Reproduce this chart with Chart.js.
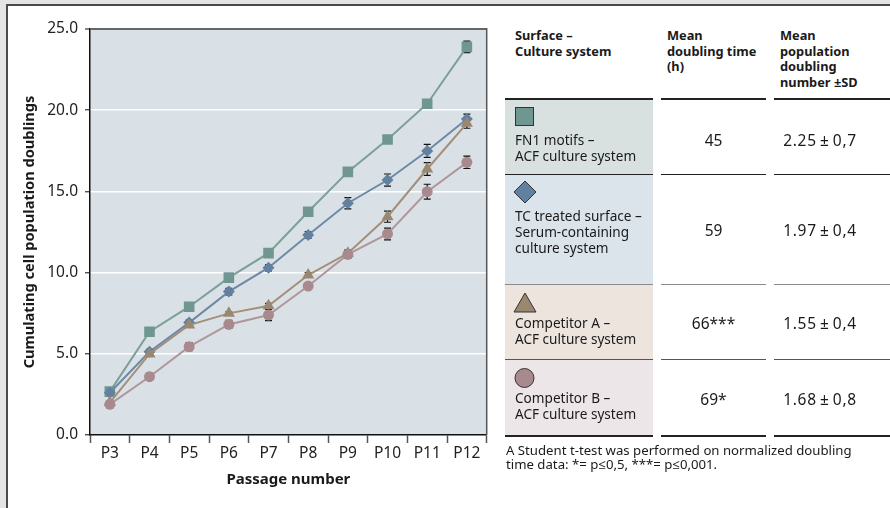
<!DOCTYPE html>
<html>
<head>
<meta charset="utf-8">
<script src="https://cdn.jsdelivr.net/npm/chart.js@4/dist/chart.umd.min.js"></script>
<style>
  html, body { margin:0; padding:0; }
  body { width:890px; height:508px; background:#e4e4e4; position:relative; overflow:hidden; font-family:"Noto Sans", "Open Sans", sans-serif; color:#1a1a1a; }
  #panel { position:absolute; left:6px; top:4px; width:884px; height:504px; background:#fff; border-left:2px solid #4a4a4a; border-top:2px solid #4a4a4a; }
  #chartBox { position:absolute; left:8px; top:6px; width:492px; height:502px; }
  .abs { position:absolute; }
  .hdr { font-weight:bold; font-size:12.8px; line-height:15.5px; }
  .cell { font-size:13.6px; line-height:15.8px; }
  .val { font-size:15.5px; text-align:center; }
  .val2 { letter-spacing:0.7px; }
  .bg { position:absolute; left:505px; width:148px; }
  .ln { position:absolute; height:1px; background:#333; }
  .foot { font-size:13.2px; line-height:14px; }
</style>
</head>
<body>
<div id="panel"></div>
<div id="chartBox"><canvas id="c"></canvas></div>

<!-- table -->
<div class="bg" style="top:100px;height:74px;background:#d9e1e0"></div>
<div class="bg" style="top:175px;height:109px;background:#dbe4eb"></div>
<div class="bg" style="top:285px;height:74px;background:#ede4de"></div>
<div class="bg" style="top:360px;height:75px;background:#ede6e8"></div>

<div id="hdrs"></div>
<div id="lines"></div>

<svg class="abs" style="left:0;top:0" width="890" height="508">
  <rect x="515.5" y="107.5" width="18" height="18" fill="#6f9690" stroke="#333" stroke-width="1"/>
  <polygon points="525,181 536,192 525,203 514,192" fill="#62809f" stroke="#333" stroke-width="1"/>
  <polygon points="525,293 536,312 514,312" fill="#9a8770" stroke="#333" stroke-width="1"/>
  <circle cx="524.5" cy="378" r="9.5" fill="#a88a8e" stroke="#333" stroke-width="1"/>
</svg>

<div id="rows"></div>

<div class="abs foot" style="left:506px;top:443px">A Student t-test was performed on normalized doubling<br>time data: *= p≤0,5, ***= p≤0,001.</div>

<script>
// ---------- data ----------
const passages = ['P3','P4','P5','P6','P7','P8','P9','P10','P11','P12'];
const yTicks = [0, 5, 10, 15, 20, 25];

const fn1Values = [2.67, 6.36, 7.9, 9.69, 11.2, 13.75, 16.2, 18.2, 20.4, 23.9];
const fn1Errors = [0.1, 0.1, 0.1, 0.1, 0.1, 0.1, 0.1, 0.1, 0.15, 0.35];

const tcValues = [2.6, 5.13, 6.92, 8.83, 10.3, 12.32, 14.27, 15.7, 17.49, 19.46];
const tcErrors = [0.1, 0.15, 0.15, 0.2, 0.2, 0.2, 0.35, 0.37, 0.4, 0.3];

const compAValues = [2.0, 4.99, 6.77, 7.49, 7.96, 9.85, 11.19, 13.44, 16.38, 19.19];
const compAErrors = [0.1, 0.1, 0.1, 0.1, 0.15, 0.15, 0.2, 0.34, 0.39, 0.3];

const compBValues = [1.89, 3.59, 5.44, 6.81, 7.39, 9.17, 11.12, 12.38, 14.98, 16.79];
const compBErrors = [0.1, 0.2, 0.25, 0.25, 0.35, 0.15, 0.25, 0.36, 0.46, 0.38];

// table data
const tableHeaders = ['Surface –\nCulture system', 'Mean\ndoubling time\n(h)', 'Mean\npopulation\ndoubling\nnumber ±SD'];
const tableNames = ['FN1 motifs –\nACF culture system', 'TC treated surface –\nSerum-containing\nculture system', 'Competitor A –\nACF culture system', 'Competitor B –\nACF culture system'];
const tableDoublingTime = ['45', '59', '66***', '69*'];
const tableDoublingNumber = ['2.25±0,7', '1.97±0,4', '1.55±0,4', '1.68±0,8'];

// ---------- table layout ----------
const hdrLeft = [515, 667, 780];
const hdrsEl = document.getElementById('hdrs');
tableHeaders.forEach((h, i) => {
  const d = document.createElement('div');
  d.className = 'abs hdr';
  d.style.left = hdrLeft[i] + 'px'; d.style.top = '28px';
  d.innerHTML = h.replace(/\n/g, '<br>');
  hdrsEl.appendChild(d);
});

const rowNameTop = [132, 208, 315, 390];
const rowValTop = [129, 219, 312, 388];
const rowsEl = document.getElementById('rows');
tableNames.forEach((n, i) => {
  const d = document.createElement('div');
  d.className = 'abs cell';
  d.style.left = '515px'; d.style.top = rowNameTop[i] + 'px';
  d.innerHTML = n.replace(/\n/g, '<br>');
  rowsEl.appendChild(d);
  const v1 = document.createElement('div');
  v1.className = 'abs val';
  v1.style.left = '661px'; v1.style.width = '105px'; v1.style.top = rowValTop[i] + 'px';
  v1.textContent = tableDoublingTime[i];
  rowsEl.appendChild(v1);
  const v2 = document.createElement('div');
  v2.className = 'abs val val2';
  v2.style.left = '760px'; v2.style.width = '120px'; v2.style.top = rowValTop[i] + 'px';
  v2.textContent = tableDoublingNumber[i].replace('±', '\u2006±\u2006');
  rowsEl.appendChild(v2);
});
const cols = [[505, 148], [661, 105], [774, 116]];
const lineSpecs = [[98, 2, '#222'], [174, 1, '#222'], [284, 1, '#8a8a8a'], [359, 1, '#555'], [435, 1.5, '#222']];
const linesEl = document.getElementById('lines');
lineSpecs.forEach(([y, h, c]) => {
  cols.forEach(([x, w]) => {
    const l = document.createElement('div');
    l.className = 'ln';
    l.style.left = x + 'px'; l.style.width = w + 'px';
    l.style.top = y + 'px'; l.style.height = h + 'px'; l.style.background = c;
    linesEl.appendChild(l);
  });
});

// ---------- chart ----------
const errorBarPlugin = {
  id: 'errorBars',
  beforeDatasetsDraw(chart) {
    const ctx = chart.ctx;
    const xs = chart.scales.x, ys = chart.scales.y;
    ctx.save();
    ctx.strokeStyle = '#111';
    ctx.lineWidth = 1.2;
    chart.data.datasets.forEach(ds => {
      if (!ds.errors) return;
      ds.data.forEach((v, i) => {
        const e = ds.errors[i];
        const x = xs.getPixelForValue(i);
        const y1 = ys.getPixelForValue(v + e);
        const y2 = ys.getPixelForValue(v - e);
        ctx.beginPath();
        ctx.moveTo(x, y1); ctx.lineTo(x, y2);
        ctx.moveTo(x - 3.5, y1); ctx.lineTo(x + 3.5, y1);
        ctx.moveTo(x - 3.5, y2); ctx.lineTo(x + 3.5, y2);
        ctx.stroke();
      });
    });
    ctx.restore();
  }
};
const bgPlugin = {
  id: 'plotBg',
  beforeDraw(chart) {
    const {ctx, chartArea: a} = chart;
    ctx.save();
    ctx.fillStyle = '#dae1e6';
    ctx.fillRect(a.left, a.top, a.right - a.left, a.bottom - a.top);
    ctx.restore();
  },
  afterDraw(chart) {
    const {ctx, chartArea: a} = chart;
    ctx.save();
    ctx.strokeStyle = '#555';
    ctx.lineWidth = 1.5;
    ctx.beginPath();
    ctx.moveTo(a.right, a.top - 1);
    ctx.lineTo(a.right, a.bottom);
    ctx.stroke();
    ctx.restore();
  }
};

function ds(label, data, errors, color, lineColor, style, radius, order) {
  return {
    label, data, errors,
    borderColor: lineColor, borderWidth: 2,
    backgroundColor: color,
    pointStyle: style, pointRadius: radius, pointHoverRadius: radius,
    pointBackgroundColor: color, pointBorderColor: color, pointBorderWidth: 0,
    tension: 0, order
  };
}

new Chart(document.getElementById('c'), {
  type: 'line',
  data: {
    labels: passages,
    datasets: [
      ds('FN1 motifs – ACF culture system', fn1Values, fn1Errors, '#6f9690', '#7b9f99', 'rect', 7.5, 3),
      ds('TC treated surface – Serum-containing culture system', tcValues, tcErrors, '#62809f', '#6d89a7', 'rectRot', 6, 2),
      ds('Competitor A – ACF culture system', compAValues, compAErrors, '#9a8770', '#a38f79', 'triangle', 7, 1),
      ds('Competitor B – ACF culture system', compBValues, compBErrors, '#a88a8e', '#b0969a', 'circle', 5.5, 0)
    ]
  },
  options: {
    responsive: true,
    maintainAspectRatio: false,
    animation: false,
    events: [],
    layout: { padding: { left: 0, top: 23, right: 13.3, bottom: 0 } },
    plugins: { legend: { display: false }, tooltip: { enabled: false } },
    scales: {
      x: {
        offset: true,
        afterFit(s) { s.height = 73; },
        grid: { drawOnChartArea: false, drawTicks: true, tickLength: 8, tickColor: '#555', tickWidth: 1.5, offset: true },
        border: { display: true, color: '#111', width: 1.5 },
        ticks: { color: '#222', font: { family: 'Noto Sans', size: 15.5 }, padding: 1, maxRotation: 0 },
        title: { display: true, text: 'Passage number', color: '#1a1a1a', font: { family: 'Noto Sans', size: 15, weight: 'bold' }, padding: { top: 0, bottom: 19 } }
      },
      y: {
        min: 0, max: 25,
        afterFit(s) { s.width = 82; },
        afterBuildTicks(s) { s.ticks = yTicks.map(v => ({ value: v })); },
        grid: {
          color: c => (c.tick && c.tick.value === 25) ? '#666' : (c.tick && c.tick.value === 0 ? 'rgba(0,0,0,0)' : '#ffffff'),
          lineWidth: c => (c.tick && c.tick.value === 25) ? 2 : 1.5,
          drawTicks: true, tickLength: 5, tickColor: '#333', tickWidth: 1.2
        },
        border: { display: true, color: '#111', width: 1.5 },
        ticks: { color: '#222', font: { family: 'Noto Sans', size: 15.5 }, padding: 7, callback: v => Number(v).toFixed(1) },
        title: { display: true, text: 'Cumulating cell population doublings', color: '#1a1a1a', font: { family: 'Noto Sans', size: 14.6, weight: 'bold' }, padding: { top: 13, bottom: 0 } }
      }
    }
  },
  plugins: [bgPlugin, errorBarPlugin]
});
</script>
</body>
</html>
